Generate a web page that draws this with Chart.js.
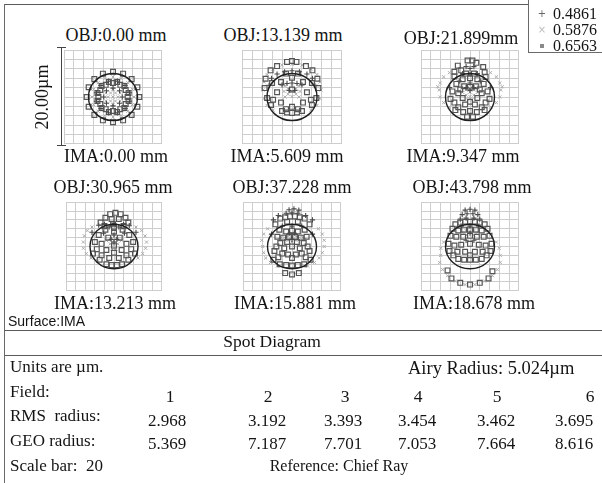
<!DOCTYPE html>
<html>
<head>
<meta charset="utf-8">
<script src="https://cdn.jsdelivr.net/npm/chart.js@4.4.0/dist/chart.umd.min.js"></script>
<style>
  html, body { margin: 0; padding: 0; background: #fff; }
  body { width: 602px; height: 483px; position: relative; overflow: hidden;
         font-family: "Liberation Serif", "Times New Roman", serif; color: #141414; }
  .c { position: absolute; white-space: nowrap; line-height: 1; transform: translate(-50%, -50%); font-size: 18px; }
  .l { position: absolute; white-space: nowrap; line-height: 1; transform: translateY(-50%); font-size: 17px; }
  .hl { position: absolute; height: 0; border-top: 1.5px solid #5a5a5a; }
  .vl { position: absolute; width: 0; border-left: 1.5px solid #6a6a6a; }
  .panel { position: absolute; }
  #legend { position: absolute; left: 528px; top: -2px; width: 90px; height: 53px;
            border: 1.5px solid #6a6a6a; background: #fff; }
  #legend .sym { position: absolute; left: 13px; transform: translate(-50%, -50%); line-height: 1; }
  #legend .txt { position: absolute; left: 24px; transform: translateY(-50%); }
</style>
</head>
<body>

<script>
// ---------- data ----------
const wavelengths = ['0.4861', '0.5876', '0.6563'];
const fields = [1, 2, 3, 4, 5, 6];
const objLabels = ['OBJ:0.00 mm', 'OBJ:13.139 mm', 'OBJ:21.899mm', 'OBJ:30.965 mm', 'OBJ:37.228 mm', 'OBJ:43.798 mm'];
const imaLabels = ['IMA:0.00 mm', 'IMA:5.609 mm', 'IMA:9.347 mm', 'IMA:13.213 mm', 'IMA:15.881 mm', 'IMA:18.678 mm'];
const rmsRadius = ['2.968', '3.192', '3.393', '3.454', '3.462', '3.695'];
const geoRadius = ['5.369', '7.187', '7.701', '7.053', '7.664', '8.616'];
const airyRadius = 5.024;   // µm
const scaleBar = 20;        // µm, full width of each box
const gridTicks = [-10, -8, -6, -4, -2, 0, 2, 4, 6, 8, 10];

// spot coordinates in µm, [x, y] relative to the chief ray
const f1_4861 = [[3.38,0.91],[2.47,2.47],[0.91,3.38],[-0.91,3.38],[-2.47,2.47],[-3.38,0.91],[-3.38,-0.91],[-2.47,-2.47],[-0.91,-3.38],[0.91,-3.38],[2.47,-2.47],[3.38,-0.91],
  [1.9,0],[1.34,1.34],[0,1.9],[-1.34,1.34],[-1.9,0],[-1.34,-1.34],[0,-1.9],[1.34,-1.34]];
const f1_5876 = [[4.3,0],[3.97,1.65],[3.04,3.04],[1.65,3.97],[0,4.3],[-1.65,3.97],[-3.04,3.04],[-3.97,1.65],[-4.3,0],[-3.97,-1.65],[-3.04,-3.04],[-1.65,-3.97],[0,-4.3],[1.65,-3.97],[3.04,-3.04],[3.97,-1.65],
  [0,0],[1,0],[0.5,0.87],[-0.5,0.87],[-1,0],[-0.5,-0.87],[0.5,-0.87],[1.47,0.85],[0,1.7],[-1.47,0.85],[-1.47,-0.85],[0,-1.7],[1.47,-0.85]];
const f1_6563 = [[5.4,0],[4.99,2.07],[3.82,3.82],[2.07,4.99],[0,5.4],[-2.07,4.99],[-3.82,3.82],[-4.99,2.07],[-5.4,0],[-4.99,-2.07],[-3.82,-3.82],[-2.07,-4.99],[0,-5.4],[2.07,-4.99],[3.82,-3.82],[4.99,-2.07],
  [3,0],[2.6,1.5],[1.5,2.6],[0,3],[-1.5,2.6],[-2.6,1.5],[-3,0],[-2.6,-1.5],[-1.5,-2.6],[0,-3],[1.5,-2.6],[2.6,-1.5],
  [3.19,0.85],[2.33,2.33],[0.85,3.19],[-0.85,3.19],[-2.33,2.33],[-3.19,0.85],[-3.19,-0.85],[-2.33,-2.33],[-0.85,-3.19],[0.85,-3.19],[2.33,-2.33],[3.19,-0.85]];

const f2_4861 = [[-4.1,4.0],[-3.0,4.9],[-1.5,5.4],[0,5.6],[1.5,5.4],[3.0,4.9],[4.1,4.0],[-2.0,2.6],[-1.0,2.9],[0,3.0],[1.0,2.9],[2.0,2.6],[-0.6,1.4],[0.6,1.4],[-4.6,2.5],[4.6,2.5]];
const f2_5876 = [[-5.8,1.5],[-5.6,3.2],[-5.0,4.8],[-3.8,6.0],[-2.0,6.8],[0,7.0],[2.0,6.8],[3.8,6.0],[5.0,4.8],[5.6,3.2],[5.8,1.5],[5.6,-0.3],[5.0,-1.8],[3.8,-2.8],[-3.8,-2.8],[-5.0,-1.8],[-5.6,-0.3],
  [0,1.2],[-0.8,1.8],[0.8,1.8],[-0.8,0.6],[0.8,0.6],[-1.6,1.2],[1.6,1.2],[0,2.3],[0,0.1],[-1.4,2.4],[1.4,2.4],[-1.4,0.0],[1.4,0.0]];
const f2_6563 = [[-1.0,7.5],[0,7.7],[0.9,7.5],[-3.0,6.6],[2.8,6.6],[-4.3,5.7],[4.1,5.7],[-5.3,3.9],[5.1,3.9],[-5.5,1.9],[5.3,1.9],[-5.0,-0.2],[4.9,-0.2],[-4.2,-1.7],[4.0,-1.7],
  [-2.0,-3.0],[-1.0,-3.3],[0,-3.4],[1.0,-3.3],[2.0,-3.0],
  [-3.0,1.0],[3.0,1.0],[-2.2,3.2],[2.2,3.2],[0,4.1],[-2.2,-1.2],[2.2,-1.2],[0,-2.1],[0,1.6],
  [-4.0,3.0],[4.0,3.0],[-3.8,-0.6],[3.8,-0.6],[-1.2,-2.6],[1.2,-2.6],[-1.2,5.0],[1.2,5.0]];

const f3_4861 = [[0,6.1],[-0.8,6.5],[0.8,6.5],[-1.5,5.0],[1.5,5.0],[0,4.9],[-2.2,3.4],[2.2,3.4],[0,3.0],[-0.8,2.0],[0.8,2.0],[-4.2,2.0],[4.2,2.0],[0,1.4]];
const f3_5876 = [[-6.3,1.5],[-6.1,3.0],[-5.4,4.3],[-4.2,5.2],[4.2,5.2],[5.4,4.3],[6.1,3.0],[6.3,1.5],[6.1,0.0],[5.4,-1.2],[4.3,-2.2],[-4.3,-2.2],[-5.4,-1.2],[-6.1,0.0],[-6.6,2.2],[6.6,2.2],
  [0,1.0],[-0.8,1.5],[0.8,1.5],[-0.8,0.4],[0.8,0.4],[0,1.9],[0,0.1],[-1.6,1.0],[1.6,1.0],[-0.4,-0.6],[0.4,-0.6]];
const f3_6563 = [[-0.5,7.8],[0.5,7.8],[1.3,7.3],[-2.5,6.7],[2.7,6.4],[-3.2,5.4],[3.0,5.3],[-3.2,4.4],[3.2,4.3],[-1.8,5.7],
  [-1.5,3.8],[0,4.0],[1.5,3.8],[-2.8,2.8],[2.8,2.8],[-1.2,2.3],[1.2,2.3],[-3.6,1.2],[3.6,1.2],[-2.4,0.8],[2.4,0.8],[-4.0,-0.4],[4.0,-0.4],
  [-3.2,-1.2],[3.2,-1.2],[-1.5,-0.2],[1.5,-0.2],[-2.4,-2.2],[2.4,-2.2],[-1.0,-1.6],[1.0,-1.6],[-1.4,-3.2],[0,-3.0],[1.4,-3.2],[-0.6,-4.2],[0.6,-4.2],
  [-2.0,1.6],[2.0,1.6],[0,-1.0],[-3.0,-2.8],[3.0,-2.8],[-0.8,5.0],[0.8,5.0],[0,2.2]];

const f4_4861 = [[-3.2,4.8],[3.2,4.7],[-2.0,5.0],[2.0,5.0],[0,5.2],[-1.0,4.4],[1.0,4.4],[0,2.6],[-0.6,1.6],[0.6,1.6],[0,1.0],[-4.6,3.2],[4.6,3.2],[-2.2,3.0],[2.2,3.0]];
const f4_5876 = [[-6.4,1.0],[-6.2,2.4],[-5.6,3.6],[-4.6,4.4],[4.6,4.4],[5.8,3.6],[6.5,2.4],[6.8,1.0],[6.6,-0.4],[6.0,-1.6],[5.0,-2.6],[-4.8,-2.6],[-5.8,-1.6],[-6.4,-0.4],[3.6,-3.2],[-3.4,-3.2],
  [0,1.4],[-0.8,1.8],[0.8,1.8],[-0.8,0.6],[0.8,0.6],[0,2.2],[0,0.2],[-1.6,1.4],[1.6,1.4],[-0.4,-0.6],[0.4,-0.6]];
const f4_6563 = [[-0.8,7.3],[0.3,7.6],[1.4,7.3],[-1.8,6.5],[2.4,6.5],[-0.5,6.2],[1.0,6.2],[-2.8,5.4],[3.0,5.4],[-0.2,5.0],
  [-1.8,3.8],[1.8,3.8],[0,3.4],[-3.2,2.6],[3.2,2.6],[-1.2,2.0],[1.2,2.0],[-4.0,1.0],[4.0,1.0],[-2.6,0.6],[2.6,0.6],[-3.6,-0.6],[3.6,-0.6],
  [-1.6,-0.8],[1.6,-0.8],[-2.6,-2.0],[2.6,-2.0],[0,-1.4],[-1.0,-2.6],[1.0,-2.6],[-1.6,-4.0],[-0.5,-4.2],[0.6,-4.2],[1.7,-4.0],
  [-2.0,4.6],[2.0,4.6],[0,4.2],[-3.0,-3.0],[3.0,-3.0],[0,0.2],[-4.4,-1.6],[4.4,-1.6]];

const f5_4861 = [[-0.6,8.3],[0.4,8.5],[1.4,8.2],[-1.2,7.5],[0.0,7.6],[1.2,7.5],[-2.8,7.0],[2.8,7.0],[-3.8,6.0],[4.2,6.0],[-2.0,4.6],[2.0,4.6],[0,4.6],[-0.5,3.0],[0.5,3.0],[0,1.6],[-4.2,2.8],[4.2,2.8]];
const f5_5876 = [[-6.0,0.0],[-6.2,1.4],[-5.8,2.8],[-5.0,4.0],[5.4,4.0],[6.2,2.8],[6.6,1.4],[6.6,0.0],[6.2,-1.4],[5.6,-2.6],[4.6,-3.6],[-4.4,-3.6],[-5.4,-2.6],[-5.8,-1.4],[3.2,-4.4],[-3.0,-4.4],
  [0,2.0],[-0.8,2.4],[0.8,2.4],[-0.8,1.4],[0.8,1.4],[0,2.8],[0,1.0],[-1.6,2.0],[1.6,2.0],[-2.6,1.6],[2.6,1.6]];
const f5_6563 = [[-2.4,6.3],[-1.4,6.6],[-0.4,6.8],[0.6,6.8],[1.6,6.6],[2.6,6.3],[-1.0,5.6],[1.2,5.6],[-3.4,5.0],[3.6,5.0],
  [-2.6,3.8],[2.6,3.8],[-1.2,3.4],[0,3.6],[1.2,3.4],[-3.0,2.2],[3.0,2.2],[-1.8,2.0],[-0.6,2.2],[0.6,2.2],[1.8,2.0],[-2.4,0.8],[2.4,0.8],
  [-1.0,1.0],[1.0,1.0],[0,0.0],[-3.6,-1.0],[3.6,-1.0],[-2.0,-1.6],[2.0,-1.6],[-0.8,-1.8],[0.8,-1.8],[-3.8,-3.0],[3.8,-3.0],
  [-2.5,-4.0],[-1.2,-4.2],[0,-4.3],[1.2,-4.2],[2.5,-4.0],[-1.4,-6.0],[0,-6.3],[1.4,-6.0],
  [-3.2,0.0],[3.2,0.0],[-1.6,-0.4],[1.6,-0.4],[-2.8,-2.4],[2.8,-2.4],[0,-2.6]];

const f6_4861 = [[-1.0,8.2],[0,8.4],[1.0,8.2],[-1.6,7.2],[-0.6,7.4],[0.6,7.4],[1.6,7.2],[-2.0,6.2],[-0.8,6.4],[0.8,6.4],[2.0,6.2],[0,4.6],[-1.8,4.6],[1.8,4.6],[0,3.0],[-0.8,1.4],[0.8,1.4]];
const f6_5876 = [[-6.0,-2.0],[-6.2,-3.6],[-5.6,-5.2],[-4.6,-6.6],[-3.0,-7.8],[-1.0,-8.6],[1.0,-8.6],[3.0,-7.8],[4.6,-6.6],[5.6,-5.2],[6.2,-3.6],[6.2,-2.0],[6.0,-0.4],[-6.0,-0.4],[-5.4,1.0],[5.4,1.0],
  [0,3.2],[-0.8,3.6],[0.8,3.6],[-1.6,3.2],[1.6,3.2],[0,4.4],[-2.4,4.4],[2.4,4.4],[-0.8,2.6],[0.8,2.6]];
const f6_6563 = [[-3.0,5.0],[-2.0,5.4],[-1.0,5.6],[0,5.6],[1.0,5.6],[2.0,5.4],[3.0,5.0],[-3.6,4.0],[3.6,4.0],[-2.4,3.6],[-1.2,3.8],[0,3.8],[1.2,3.8],[2.4,3.6],
  [-4.0,2.4],[4.0,2.4],[-2.8,2.2],[-1.4,2.2],[0,2.4],[1.4,2.2],[2.8,2.2],[-4.4,0.6],[4.4,0.6],[-3.2,0.2],[-1.8,0.4],[0,0.6],[1.8,0.4],[3.2,0.2],
  [-4.2,-1.0],[4.2,-1.0],[-2.6,-1.2],[-1.0,-1.2],[1.0,-1.2],[2.6,-1.2],[-2.4,-2.8],[-1.2,-3.0],[0,-3.0],[1.2,-3.0],[2.4,-2.8],
  [-4.6,-5.4],[4.6,-5.6],[-3.8,-7.2],[3.8,-7.2],[-2.0,-8.2],[0,-8.6],[2.0,-8.2],
  [-3.4,-2.0],[3.4,-2.0],[0,-2.0]];

const spots = [
  [f1_4861, f1_5876, f1_6563],
  [f2_4861, f2_5876, f2_6563],
  [f3_4861, f3_5876, f3_6563],
  [f4_4861, f4_5876, f4_6563],
  [f5_4861, f5_5876, f5_6563],
  [f6_4861, f6_5876, f6_6563]
];

// ---------- layout ----------
const boxes = [[62,48,102,98],[240,48,104,98],[419,48,102,98],[64,200,100,93],[241,200,102,93],[419,200,102,93]];
const objPos = [[116,35],[283,35],[461,38],[113,187],[292,187],[472,187]];
const imaPos = [[116,156],[287,156],[463,156],[115,303],[295,303],[474,303]];
const fieldX = [170,268,345,418,497,590];
const valueX = [167,267,343,417,496,574];
const PAD = 3;

function addEl(cls, text, css) {
  const d = document.createElement('div');
  d.className = cls;
  if (text !== null) d.textContent = text;
  Object.assign(d.style, css);
  document.body.appendChild(d);
  return d;
}

// frame lines
addEl('hl', null, { left: '5px', top: '4px', width: '524px' });
addEl('vl', null, { left: '4px', top: '4px', height: '480px' });
addEl('hl', null, { left: '5px', top: '330px', width: '600px' });
addEl('hl', null, { left: '5px', top: '355px', width: '600px' });

// spot marker styles per wavelength
const styles = [
  { pointStyle: 'cross',    radius: 2.6, color: '#4a4a4a', width: 1.1, order: 1 },
  { pointStyle: 'crossRot', radius: 2.2, color: '#ababab', width: 1,   order: 3 },
  { pointStyle: 'rect',     radius: 3.4, color: '#555555', width: 1.2, order: 2 }
];

const airyPlugin = {
  id: 'airy',
  afterDatasetsDraw(chart) {
    const { ctx, scales: { x, y } } = chart;
    const cx = x.getPixelForValue(0), cy = y.getPixelForValue(0);
    const rx = Math.abs(x.getPixelForValue(airyRadius) - cx);
    const ry = Math.abs(y.getPixelForValue(airyRadius) - cy);
    ctx.save();
    ctx.strokeStyle = '#1e1e1e';
    ctx.lineWidth = 1.4;
    ctx.beginPath();
    ctx.ellipse(cx, cy, rx, ry, 0, 0, Math.PI * 2);
    ctx.stroke();
    ctx.restore();
  }
};

const half = scaleBar / 2;
spots.forEach((series, i) => {
  const [bx, by, bw, bh] = boxes[i];
  const wrap = addEl('panel', null, { left: (bx - PAD) + 'px', top: (by - PAD) + 'px', width: (bw + 2 * PAD) + 'px', height: (bh + 2 * PAD) + 'px' });
  const cv = document.createElement('canvas');
  cv.width = bw + 2 * PAD; cv.height = bh + 2 * PAD;
  wrap.appendChild(cv);

  const axis = {
    type: 'linear', min: -half, max: half,
    afterBuildTicks: s => { s.ticks = gridTicks.map(v => ({ value: v })); },
    ticks: { display: false },
    grid: { color: '#cdcdcd', lineWidth: 1, drawTicks: false },
    border: { display: false }
  };

  new Chart(cv, {
    type: 'scatter',
    data: {
      datasets: series.map((pts, k) => ({
        label: wavelengths[k],
        data: pts.map(p => ({ x: p[0], y: p[1] })),
        pointStyle: styles[k].pointStyle,
        pointRadius: styles[k].radius,
        borderColor: styles[k].color,
        backgroundColor: 'rgba(0,0,0,0)',
        pointBorderWidth: styles[k].width,
        order: styles[k].order
      }))
    },
    options: {
      responsive: false, animation: false, devicePixelRatio: 1, events: [],
      layout: { padding: PAD },
      plugins: { legend: { display: false }, tooltip: { enabled: false } },
      scales: { x: axis, y: { ...axis } }
    },
    plugins: [airyPlugin]
  });

  addEl('c', objLabels[i], { left: objPos[i][0] + 'px', top: objPos[i][1] + 'px' });
  addEl('c', imaLabels[i], { left: imaPos[i][0] + 'px', top: imaPos[i][1] + 'px' });
});

// scale bar beside the first box
(function () {
  const [bx, by, bw, bh] = boxes[0];
  addEl('vl', null, { left: (bx - 1) + 'px', top: by + 'px', height: bh + 'px', borderLeft: '1.5px solid #444' });
  addEl('hl', null, { left: (bx - 5) + 'px', top: (by - 1) + 'px', width: '9px', borderTop: '1.5px solid #444' });
  addEl('hl', null, { left: (bx - 5) + 'px', top: (by + bh - 1) + 'px', width: '9px', borderTop: '1.5px solid #444' });
  addEl('c', scaleBar.toFixed(2) + 'µm', { left: '42px', top: (by + bh / 2) + 'px', transform: 'translate(-50%,-50%) rotate(-90deg)' });
})();

// legend
(function () {
  const lg = addEl('', null, {});
  lg.id = 'legend';
  const syms = [
    { t: '+', css: { fontSize: '10px', color: '#666', fontFamily: 'DejaVu Sans' } },
    { t: '×', css: { fontSize: '10px', color: '#bbb', fontFamily: 'DejaVu Sans' } },
    { t: '',  css: { width: '4px', height: '4px', background: '#8a8a8a' } }
  ];
  wavelengths.forEach((w, k) => {
    const y = 15 + k * 16;
    const s = document.createElement('div');
    s.className = 'sym'; s.textContent = syms[k].t;
    Object.assign(s.style, syms[k].css, { top: y + 'px' });
    const t = document.createElement('div');
    t.className = 'txt'; t.textContent = w;
    Object.assign(t.style, { top: y + 'px', fontSize: '16px', lineHeight: '1' });
    lg.appendChild(s); lg.appendChild(t);
  });
})();

// captions and summary table
addEl('l', 'Surface:IMA', { left: '8px', top: '321px', fontFamily: '"Liberation Sans", Arial, sans-serif', fontSize: '14px' });
addEl('c', 'Spot Diagram', { left: '272px', top: '342px', fontSize: '17.5px' });
addEl('l', 'Units are µm.', { left: '10px', top: '366px' });
addEl('l', 'Airy Radius: ' + airyRadius.toFixed(3) + 'µm', { left: '408px', top: '368px', fontSize: '18.5px' });
addEl('l', 'Field:', { left: '10px', top: '391px' });
addEl('l', 'RMS  radius:', { left: '10px', top: '415px', whiteSpace: 'pre' });
addEl('l', 'GEO radius:', { left: '10px', top: '440px' });
addEl('l', 'Scale bar:  ' + scaleBar, { left: '10px', top: '465px', whiteSpace: 'pre' });
addEl('c', 'Reference: Chief Ray', { left: '339px', top: '466px', fontSize: '16px' });
fields.forEach((f, i) => {
  addEl('c', String(f), { left: fieldX[i] + 'px', top: '397px', fontSize: '17.5px' });
  addEl('c', rmsRadius[i], { left: valueX[i] + 'px', top: '420px', fontSize: '17px' });
  addEl('c', geoRadius[i], { left: valueX[i] + 'px', top: '443px', fontSize: '17px' });
});
</script>
</body>
</html>
